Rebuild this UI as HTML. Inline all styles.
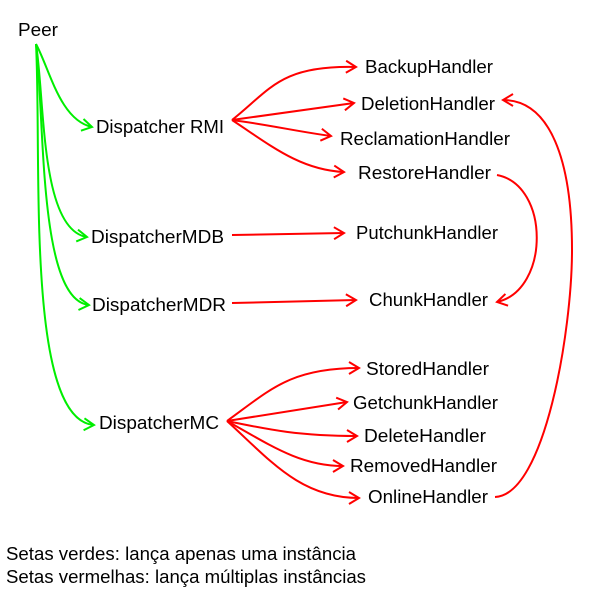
<!DOCTYPE html>
<html><head><meta charset="utf-8"><style>
html,body{margin:0;padding:0;background:#fff;width:590px;height:596px;overflow:hidden}
svg{display:block}
text{font-family:"Liberation Sans",Arial,sans-serif;font-size:18px;fill:#000}
</style></head><body>
<svg width="590" height="596" viewBox="0 0 590 596">
<defs>
<marker id="g" markerWidth="14" markerHeight="14" refX="11" refY="7" orient="auto" markerUnits="userSpaceOnUse"><path d="M1,1 L11,7 L1,13" fill="none" stroke="#00ee00" stroke-width="2"/></marker>
<marker id="r" markerWidth="14" markerHeight="14" refX="11" refY="7" orient="auto" markerUnits="userSpaceOnUse"><path d="M1,1 L11,7 L1,13" fill="none" stroke="#ff0000" stroke-width="2"/></marker>
</defs>
<g fill="none" stroke="#00ee00" stroke-width="2">
<path d="M36,44 C50,70 60,120 92,127" marker-end="url(#g)"/>
<path d="M36,44 C45,100 40,230 87,237" marker-end="url(#g)"/>
<path d="M36,44 C45,120 38,300 89,305" marker-end="url(#g)"/>
<path d="M36,44 C42,160 25,420 94,425" marker-end="url(#g)"/>
</g>
<g fill="none" stroke="#ff0000" stroke-width="2">
<path d="M232,120 C270,90 280,65 356,67" marker-end="url(#r)"/>
<path d="M232,120 L354,103" marker-end="url(#r)"/>
<path d="M232,120 C270,125 300,132 331,136" marker-end="url(#r)"/>
<path d="M232,120 C270,145 300,170 344,172" marker-end="url(#r)"/>
<path d="M232,235 L344,233" marker-end="url(#r)"/>
<path d="M232,303 L356,300" marker-end="url(#r)"/>
<path d="M227,421 C270,390 290,368 359,368" marker-end="url(#r)"/>
<path d="M227,421 L347,402" marker-end="url(#r)"/>
<path d="M227,421 C270,430 300,436 357,436" marker-end="url(#r)"/>
<path d="M227,421 C270,445 300,466 343,466" marker-end="url(#r)"/>
<path d="M227,421 C270,460 300,498 359,498" marker-end="url(#r)"/>
<path d="M497,175 C550,185 550,290 497,302" marker-end="url(#r)"/>
<path d="M495,497 C545,495 572,330 572,250 C572,160 550,100 503,100" marker-end="url(#r)"/>
</g>
<text x="18" y="36" textLength="40" lengthAdjust="spacingAndGlyphs">Peer</text>
<text x="96" y="133" textLength="128" lengthAdjust="spacingAndGlyphs">Dispatcher RMI</text>
<text x="91" y="243" textLength="133" lengthAdjust="spacingAndGlyphs">DispatcherMDB</text>
<text x="92" y="311" textLength="134" lengthAdjust="spacingAndGlyphs">DispatcherMDR</text>
<text x="99" y="429" textLength="120" lengthAdjust="spacingAndGlyphs">DispatcherMC</text>
<text x="365" y="73" textLength="128" lengthAdjust="spacingAndGlyphs">BackupHandler</text>
<text x="361" y="110" textLength="134" lengthAdjust="spacingAndGlyphs">DeletionHandler</text>
<text x="340" y="145" textLength="170" lengthAdjust="spacingAndGlyphs">ReclamationHandler</text>
<text x="358" y="179" textLength="133" lengthAdjust="spacingAndGlyphs">RestoreHandler</text>
<text x="356" y="239" textLength="142" lengthAdjust="spacingAndGlyphs">PutchunkHandler</text>
<text x="369" y="306" textLength="119" lengthAdjust="spacingAndGlyphs">ChunkHandler</text>
<text x="366" y="375" textLength="123" lengthAdjust="spacingAndGlyphs">StoredHandler</text>
<text x="353" y="409" textLength="145" lengthAdjust="spacingAndGlyphs">GetchunkHandler</text>
<text x="364" y="442" textLength="122" lengthAdjust="spacingAndGlyphs">DeleteHandler</text>
<text x="350" y="472" textLength="147" lengthAdjust="spacingAndGlyphs">RemovedHandler</text>
<text x="368" y="503" textLength="120" lengthAdjust="spacingAndGlyphs">OnlineHandler</text>
<text x="6" y="560" textLength="350" lengthAdjust="spacingAndGlyphs">Setas verdes: lança apenas uma instância</text>
<text x="6" y="583" textLength="360" lengthAdjust="spacingAndGlyphs">Setas vermelhas: lança múltiplas instâncias</text>
</svg>
</body></html>
